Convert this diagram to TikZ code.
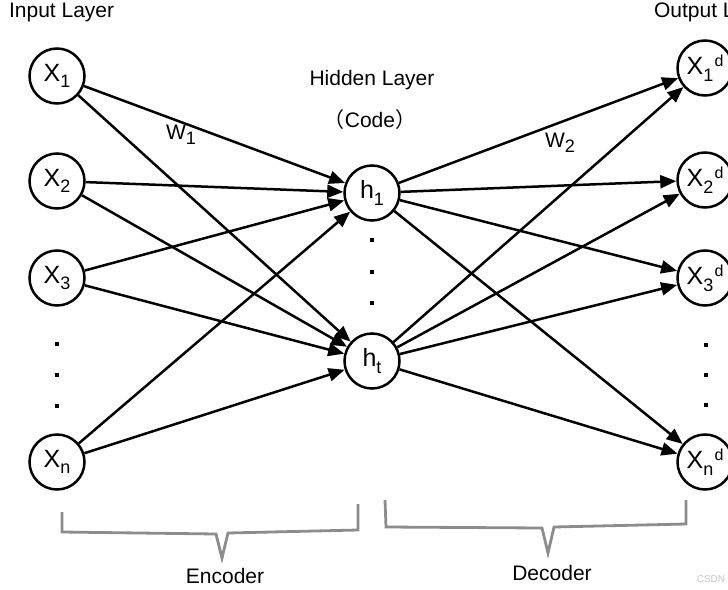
\documentclass[tikz,border=0pt]{standalone}
\usepackage{fontspec}
\setmainfont{Liberation Sans}
\newfontfamily\cjkfont{Noto Sans CJK SC}
\usetikzlibrary{arrows.meta}

\newcommand{\lo}[1]{\raisebox{-0.5ex}{\fontsize{9}{9}\selectfont #1}}
\newcommand{\hi}[1]{\hspace{0.05em}\raisebox{0.65ex}{\fontsize{8}{8}\selectfont #1}}

\begin{document}
\begin{tikzpicture}[x=0.5pt, y=-0.5pt,
        neuron/.style={circle, draw, line width=1.25pt, minimum size=27.5pt, inner sep=0pt, font=\fontsize{12.5}{14}\selectfont},
        link/.style={line width=1.25pt, -{Triangle[length=8pt, width=6.5pt]}},
        bracket/.style={line width=1.4pt, draw=gray!90, line join=miter},
        lbl/.style={font=\fontsize{10.5}{12}\selectfont},
        pt/.style={fill, inner sep=0pt, minimum size=2.2pt}]
    \useasboundingbox (0,0) rectangle (728,589);

    \node[lbl, anchor=west] (inlayer) at (2,12) {Input Layer};
    \node[lbl, anchor=west] (outlayer) at (647,12) {Output Layer};
    \node[lbl] (hidlayer) at (372,80) {Hidden Layer};
    \node[lbl] (code) at (370,120) {{\cjkfont（}Code{\cjkfont）}};

    \node[neuron] (x1) at (57,76) {X\lo{1}};
    \node[neuron] (x2) at (57,181) {X\lo{2}};
    \node[neuron] (x3) at (57,278) {X\lo{3}};
    \node[neuron] (xn) at (57,462) {X\lo{n}};
    \node[pt] (xa) at (57,344) {};
    \node[pt] (xb) at (57,375) {};
    \node[pt] (xc) at (57,406) {};

    \node[neuron] (h1) at (372,193) {h\lo{1}};
    \node[neuron] (ht) at (372,361) {h\lo{t}};
    \node[pt] (ha) at (372,240) {};
    \node[pt] (hb) at (372,272) {};
    \node[pt] (hc) at (372,303) {};

    \node[neuron] (y1) at (705,68) {X\lo{1}\hi{d}};
    \node[neuron] (y2) at (705,180) {X\lo{2}\hi{d}};
    \node[neuron] (y3) at (705,278) {X\lo{3}\hi{d}};
    \node[neuron] (yn) at (705,462) {X\lo{n}\hi{d}};
    \node[pt] (ya) at (706,345) {};
    \node[pt] (yb) at (706,375) {};
    \node[pt] (yc) at (706,405) {};

    \foreach \i in {x1,x2,x3,xn}
        \foreach \j in {h1,ht}
            \draw[link] (\i) -- (\j);
    \foreach \i in {h1,ht}
        \foreach \j in {y1,y2,y3,yn}
            \draw[link] (\i) -- (\j);

    \node[lbl] (w1) at (181,135) {W\lo{1}};
    \node[lbl] (w2) at (560,143) {W\lo{2}};

    \draw[bracket] (62,512) -- (62,532) -- (216,534) -- (222,558) -- (228,533) -- (358,530) -- (358,504);
    \draw[bracket] (385,500) -- (386,527) -- (542,528) -- (548,553) -- (554,527) -- (686,524) -- (686,500);

    \node[lbl] (enc) at (225,576) {Encoder};
    \node[lbl] (dec) at (552,573) {Decoder};
    \node[font=\fontsize{5}{6}\selectfont, text=gray!45] (mark) at (711,579) {CSDN};
\end{tikzpicture}
\end{document}
